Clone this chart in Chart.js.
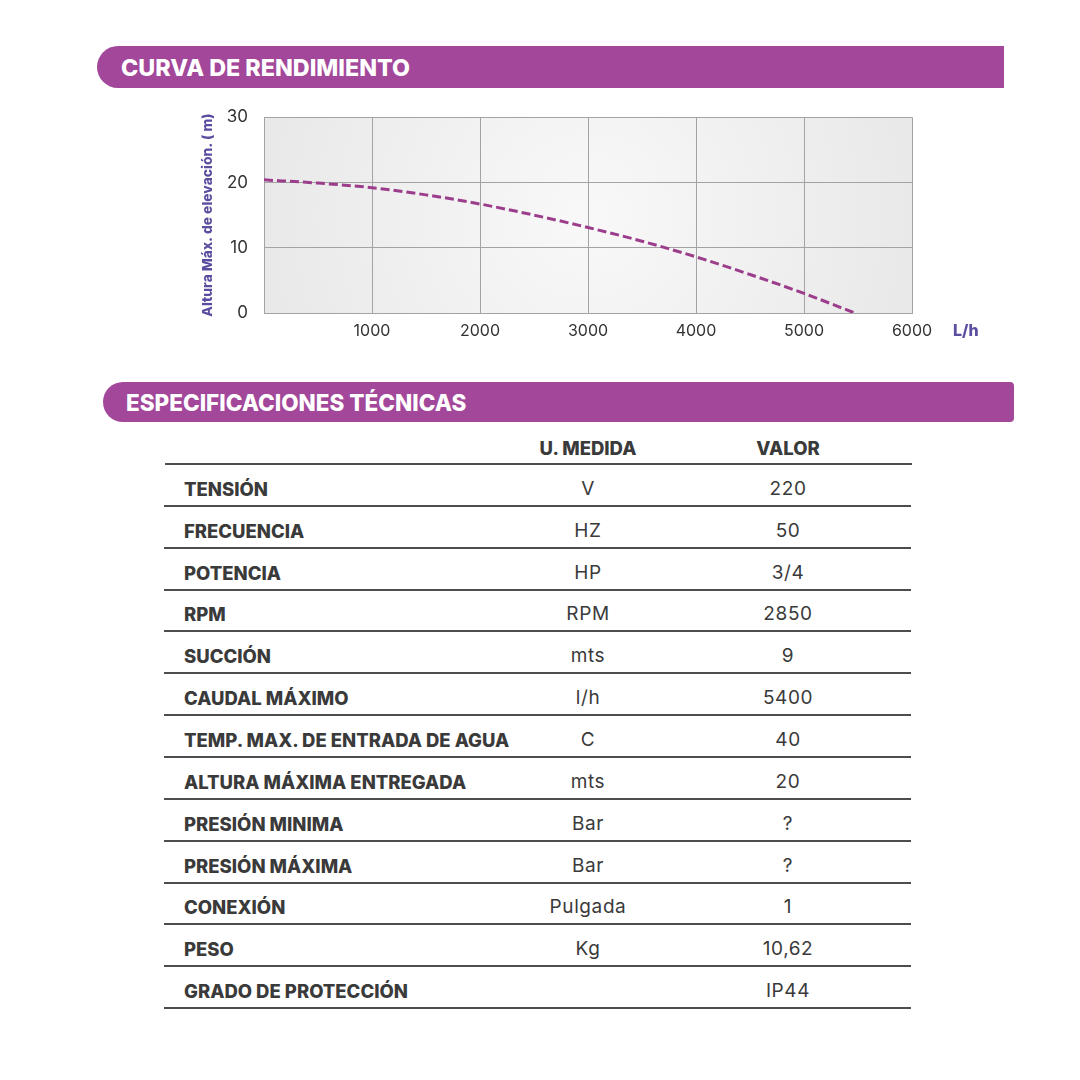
<!DOCTYPE html>
<html>
<head>
<meta charset="utf-8">
<script src="https://cdn.jsdelivr.net/npm/chart.js@4/dist/chart.umd.min.js"></script>
<style>
  html, body { margin: 0; padding: 0; background: #fff; }
  body { width: 1080px; height: 1080px; position: relative; overflow: hidden; font-family: Inter, "Open Sans", sans-serif; }
  .banner {
    position: absolute; background: #a2479a; color: #fff;
    font-weight: 800; box-sizing: border-box; display: flex; align-items: center;
  }
  #b1 { left: 97px; top: 46px; width: 907px; height: 42px; border-radius: 21px 0 0 21px; padding-left: 24px; font-size: 23.3px; }
  #b2 { left: 103px; top: 382px; width: 911px; height: 40px; border-radius: 20px 4px 4px 20px; padding-left: 23px; font-size: 22.5px; }
  #chartBox { position: absolute; left: 190px; top: 91px; width: 790px; height: 259px; }
  .cell { position: absolute; color: #3a3a3a; font-size: 19px; line-height: 22px; letter-spacing: 0.6px; }
  .lbl, .hdr { font-weight: 800; font-size: 18.5px; letter-spacing: 0; }
  .rule { position: absolute; height: 2px; background: #4d4d4d; }
</style>
</head>
<body>
<div class="banner" id="b1">CURVA DE RENDIMIENTO</div>
<div class="banner" id="b2">ESPECIFICACIONES TÉCNICAS</div>
<div id="chartBox"><canvas id="curveChart"></canvas></div>
<div id="specTable"></div>

<script>
// curva Q-H
const flowLh = [0, 500, 1000, 1500, 2000, 2500, 3000, 3500, 4000, 4500, 5000, 5470];
const headM = [20.4, 19.9, 19.2, 18.1, 16.7, 15.0, 13.1, 11.0, 8.6, 5.9, 3.0, 0];

// tabla de especificaciones
const specLabels = ["TENSIÓN", "FRECUENCIA", "POTENCIA", "RPM", "SUCCIÓN", "CAUDAL MÁXIMO",
  "TEMP. MAX. DE ENTRADA DE AGUA", "ALTURA MÁXIMA ENTREGADA", "PRESIÓN MINIMA", "PRESIÓN MÁXIMA",
  "CONEXIÓN", "PESO", "GRADO DE PROTECCIÓN"];
const specUnits = ["V", "HZ", "HP", "RPM", "mts", "l/h", "C", "mts", "Bar", "Bar", "Pulgada", "Kg", ""];
const specValues = ["220", "50", "3/4", "2850", "9", "5400", "40", "20", "?", "?", "1", "10,62", "IP44"];

const plotBg = {
  id: 'plotBg',
  beforeDraw(chart) {
    const { ctx, chartArea: a } = chart;
    const cx = (a.left + a.right) / 2, cy = (a.top + a.bottom) / 2;
    const g = ctx.createRadialGradient(cx, cy, 10, cx, cy, (a.right - a.left) / 2);
    g.addColorStop(0, '#f8f8f8');
    g.addColorStop(1, '#e9e9e9');
    ctx.save();
    ctx.fillStyle = g;
    ctx.fillRect(a.left, a.top, a.right - a.left, a.bottom - a.top);
    ctx.restore();
  }
};

const unitLabel = {
  id: 'unitLabel',
  afterDraw(chart) {
    const { ctx, chartArea: a } = chart;
    ctx.save();
    ctx.font = '800 16px Inter, sans-serif';
    ctx.fillStyle = '#5b4ea0';
    ctx.textBaseline = 'middle';
    ctx.fillText('L/h', a.right + 41, a.bottom + 18);
    ctx.restore();
  }
};

function renderChart() {
  const ctx = document.getElementById('curveChart').getContext('2d');
  new Chart(ctx, {
    type: 'line',
    data: {
      datasets: [{
        data: flowLh.map((q, i) => ({ x: q, y: headM[i] })),
        borderColor: '#9c3d8c',
        borderWidth: 3,
        borderDash: [9, 4],
        pointRadius: 0,
        cubicInterpolationMode: 'monotone',
        fill: false
      }]
    },
    options: {
      responsive: true,
      maintainAspectRatio: false,
      animation: false,
      layout: { padding: { top: 0, right: 68 } },
      plugins: { legend: { display: false }, tooltip: { enabled: false } },
      scales: {
        x: {
          type: 'linear', min: 0, max: 6000,
          ticks: {
            stepSize: 1000, padding: 9, color: '#333',
            font: { family: 'Inter', size: 16 },
            callback: v => v === 0 ? '' : v
          },
          grid: { color: '#a3a3a3', lineWidth: 1, drawTicks: false },
          border: { color: '#a3a3a3' },
          afterFit: s => { s.height = 37; }
        },
        y: {
          min: 0, max: 30,
          ticks: {
            stepSize: 10, padding: 16, color: '#333',
            font: { family: 'Inter', size: 17 }
          },
          grid: { color: '#a3a3a3', lineWidth: 1, drawTicks: false },
          border: { color: '#a3a3a3' },
          title: {
            display: true, text: 'Altura Máx. de elevación. ( m)', color: '#5b4ea0',
            font: { family: 'Inter', size: 13.8, weight: '800' }, padding: { top: 10, bottom: 0 }
          },
          afterFit: s => { s.width = 74; }
        }
      }
    },
    plugins: [plotBg, unitLabel]
  });
}

function renderTable() {
  const box = document.getElementById('specTable');
  const rowH = 41.85, firstLine = 464;
  const cols = { label: 184, unit: 588, value: 788 };
  let html = '';
  html += `<div class="cell hdr" style="left:${cols.unit - 100}px;width:200px;text-align:center;top:${448 - 11}px">U. MEDIDA</div>`;
  html += `<div class="cell hdr" style="left:${cols.value - 100}px;width:200px;text-align:center;top:${448 - 11}px">VALOR</div>`;
  html += `<div class="rule" style="left:165px;width:747px;top:${firstLine - 1}px"></div>`;
  specLabels.forEach((lab, i) => {
    const mid = firstLine + rowH * i + rowH / 2 + 4;
    html += `<div class="cell lbl" style="left:${cols.label}px;top:${mid - 11}px">${lab}</div>`;
    html += `<div class="cell" style="left:${cols.unit - 100}px;width:200px;text-align:center;top:${mid - 11}px">${specUnits[i]}</div>`;
    html += `<div class="cell" style="left:${cols.value - 100}px;width:200px;text-align:center;top:${mid - 11}px">${specValues[i]}</div>`;
    const lineY = firstLine + rowH * (i + 1);
    html += `<div class="rule" style="left:164px;width:747px;top:${lineY - 1}px"></div>`;
  });
  box.innerHTML = html;
}

document.addEventListener("DOMContentLoaded", () => {
  renderChart();
  renderTable();
});
</script>
</body>
</html>
